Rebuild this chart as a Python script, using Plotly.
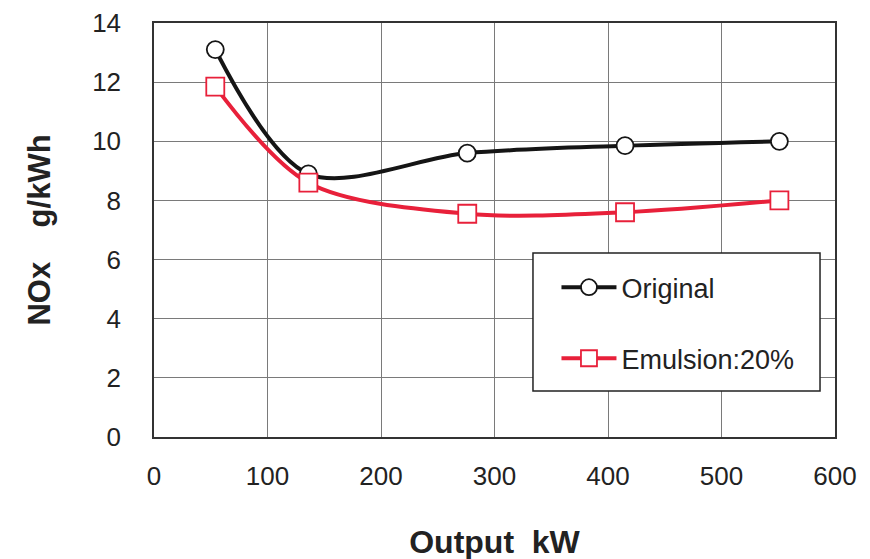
import plotly.graph_objects as go

output_kw = [54, 136, 276, 415, 551]
nox_original = [13.1, 8.9, 9.6, 9.85, 10.0]
nox_emulsion = [11.85, 8.6, 7.55, 7.6, 8.0]

x_ticks = [0, 100, 200, 300, 400, 500, 600]
y_ticks = [0, 2, 4, 6, 8, 10, 12, 14]

tick_font = dict(family="Liberation Sans, Arial", size=26, color="#222")

fig = go.Figure()
fig.add_trace(go.Scatter(
    x=output_kw, y=nox_original, name="Original", mode="lines+markers",
    line=dict(color="#151515", width=4, shape="spline", smoothing=0.9),
    marker=dict(symbol="circle", size=17, color="white", line=dict(color="#151515", width=1.8)),
    legendgroup="a",
))
fig.add_trace(go.Scatter(
    x=output_kw, y=nox_emulsion, name="Emulsion:20%", mode="lines+markers",
    line=dict(color="#e8203a", width=4, shape="spline", smoothing=0.9),
    marker=dict(symbol="square", size=18, color="white", line=dict(color="#e8203a", width=1.8)),
    legendgroup="b",
))

fig.add_shape(
    type="rect", xref="paper", yref="paper",
    x0=0.5565, x1=0.978, y0=0.111, y1=0.4444,
    fillcolor="white", line=dict(color="#222", width=1.5), layer="above",
)

fig.update_layout(
    width=870, height=559,
    margin=dict(l=146, r=43, t=15, b=130),
    paper_bgcolor="white", plot_bgcolor="white",
    showlegend=True,
    legend=dict(
        x=0.591, y=0.42, xanchor="left", yanchor="top",
        bgcolor="rgba(0,0,0,0)", borderwidth=0,
        font=dict(family="Liberation Sans, Arial", size=27, color="#222"),
        tracegroupgap=33, itemwidth=55,
    ),
    xaxis=dict(
        range=[0, 600], tickvals=x_ticks, ticktext=[str(v) for v in x_ticks],
        showgrid=True, gridcolor="#7a7a7a", gridwidth=1,
        showline=True, linecolor="#333", linewidth=1.5, mirror=True,
        ticks="", tickfont=tick_font, ticklabelstandoff=15, automargin=False,
        title=dict(text="Output  kW", font=dict(family="Liberation Sans, Arial", size=32, color="#222", weight="bold"), standoff=41),
        zeroline=False,
    ),
    yaxis=dict(
        range=[0, 14], tickvals=y_ticks, ticktext=[str(v) for v in y_ticks],
        showgrid=True, gridcolor="#7a7a7a", gridwidth=1,
        showline=True, linecolor="#333", linewidth=1.5, mirror=True,
        ticks="", tickfont=tick_font, ticklabelstandoff=26, automargin=False,
        title=dict(text="NOx    g/kWh", font=dict(family="Liberation Sans, Arial", size=31, color="#222", weight="bold"), standoff=32),
        zeroline=False,
    ),
)

fig.write_html("out.html")
